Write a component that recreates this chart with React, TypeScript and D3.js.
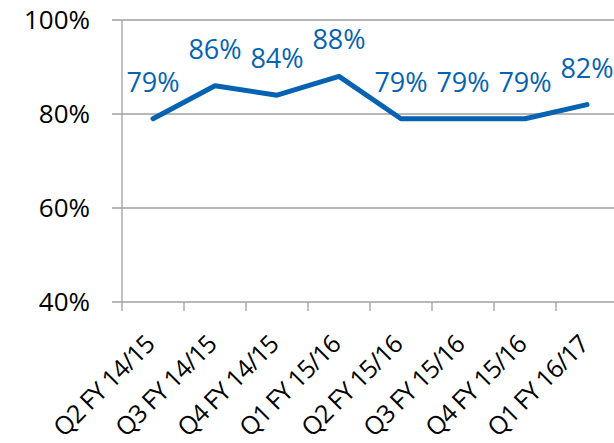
import React, { useEffect, useRef } from 'react';
import * as d3 from 'd3';

const quarters = [
  'Q2 FY 14/15',
  'Q3 FY 14/15',
  'Q4 FY 14/15',
  'Q1 FY 15/16',
  'Q2 FY 15/16',
  'Q3 FY 15/16',
  'Q4 FY 15/16',
  'Q1 FY 16/17',
];
const scores = [79, 86, 84, 88, 79, 79, 79, 82];
const yTicks = [40, 60, 80, 100];

const width = 614;
const height = 443;
const blue = '#0563b1';
const grey = '#a0a0a0';
const font = '"Open Sans", sans-serif';

const LineChart = () => {
  const ref = useRef<SVGSVGElement>(null);

  useEffect(() => {
    const svg = d3.select(ref.current);
    svg.selectAll('*').remove();

    const left = 122;
    const top = 20;
    const bottom = 302;

    const x = d3.scaleBand<string>().domain(quarters).range([left, left + 62 * quarters.length]);
    const y = d3.scaleLinear().domain([40, 100]).range([bottom, top]);

    // gridlines + y ticks
    svg.append('g')
      .selectAll('line')
      .data(yTicks)
      .enter().append('line')
      .attr('x1', left - 10)
      .attr('x2', width)
      .attr('y1', d => y(d))
      .attr('y2', d => y(d))
      .attr('stroke', grey)
      .attr('stroke-width', 1.3);

    svg.append('g')
      .selectAll('text')
      .data(yTicks)
      .enter().append('text')
      .attr('x', 90)
      .attr('y', d => y(d))
      .attr('dy', '0.35em')
      .attr('text-anchor', 'end')
      .attr('font-family', font)
      .attr('font-size', 26)
      .attr('fill', '#000')
      .text(d => d + '%');

    // y axis line
    svg.append('line')
      .attr('x1', left).attr('x2', left)
      .attr('y1', top).attr('y2', bottom)
      .attr('stroke', grey)
      .attr('stroke-width', 1.3);

    // x ticks at band edges
    svg.append('g')
      .selectAll('line')
      .data(quarters)
      .enter().append('line')
      .attr('x1', d => x(d)!)
      .attr('x2', d => x(d)!)
      .attr('y1', bottom)
      .attr('y2', bottom + 9)
      .attr('stroke', grey)
      .attr('stroke-width', 1.3);

    svg.append('g')
      .selectAll('text')
      .data(quarters)
      .enter().append('text')
      .attr('transform', d => `translate(${x(d)! + x.bandwidth() / 2 + 3}, 346) rotate(-45)`)
      .attr('text-anchor', 'end')
      .attr('font-family', font)
      .attr('font-size', 25)
      .attr('letter-spacing', -0.9)
      .attr('fill', '#000')
      .text(d => d);

    const line = d3.line<number>()
      .x((d, i) => x(quarters[i])! + x.bandwidth() / 2)
      .y(d => y(d));

    svg.append('path')
      .datum(scores)
      .attr('d', line)
      .attr('fill', 'none')
      .attr('stroke', blue)
      .attr('stroke-width', 5)
      .attr('stroke-linejoin', 'round')
      .attr('stroke-linecap', 'round');

    svg.append('g')
      .selectAll('text')
      .data(scores)
      .enter().append('text')
      .attr('x', (d, i) => x(quarters[i])! + x.bandwidth() / 2)
      .attr('y', d => y(d) - 27)
      .attr('text-anchor', 'middle')
      .attr('font-family', font)
      .attr('font-size', 27)
      .attr('fill', blue)
      .text(d => d + '%');
  }, []);

  return (
    <svg
      ref={ref}
      width={width}
      height={height}
      style={{ position: 'absolute', left: 0, top: 0, background: '#fff' }}
    />
  );
};

export default function App() {
  return <LineChart />;
}
